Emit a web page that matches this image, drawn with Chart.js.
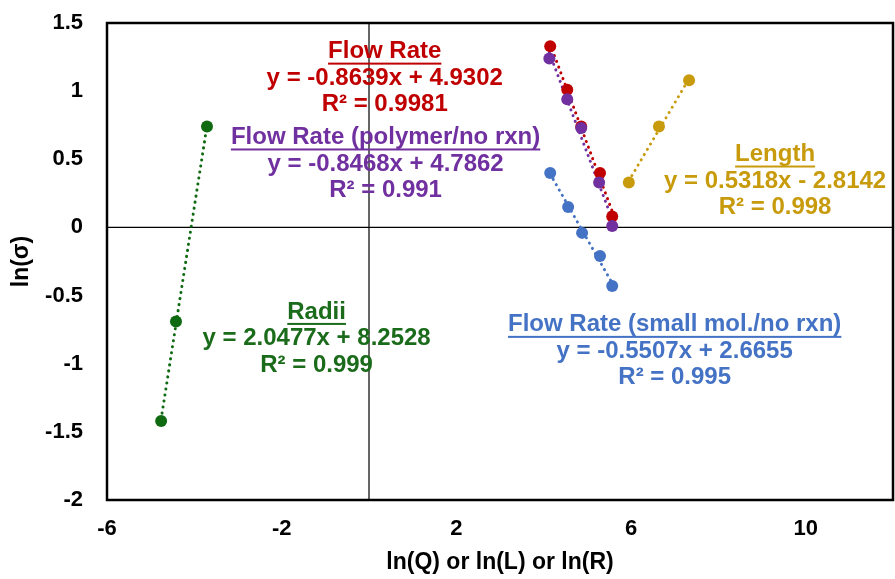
<!DOCTYPE html>
<html>
<head>
<meta charset="utf-8">
<script src="https://cdn.jsdelivr.net/npm/chart.js@4.4.0/dist/chart.umd.min.js"></script>
<style>
  html, body { margin: 0; padding: 0; background: #fff; }
  #wrap { width: 895px; height: 579px; }
</style>
</head>
<body>
<div id="wrap"><canvas id="myChart" width="895" height="579"></canvas></div>
<script>
// values
const flowX = [4.15, 4.54, 4.86, 5.29, 5.57];
const flowY = [1.33, 1.01, 0.74, 0.40, 0.08];
const polyX = [4.13, 4.54, 4.86, 5.27, 5.57];
const polyY = [1.24, 0.94, 0.73, 0.33, 0.01];
const smallX = [4.15, 4.56, 4.88, 5.29, 5.57];
const smallY = [0.40, 0.15, -0.04, -0.21, -0.43];
const lengthX = [5.95, 6.64, 7.33];
const lengthY = [0.33, 0.74, 1.08];
const radiiX = [-4.76, -4.42, -3.71];
const radiiY = [-1.42, -0.69, 0.74];

const xTicks = [-6, -2, 2, 6, 10];

const seriesNames = ["Flow Rate", "Flow Rate (polymer/no rxn)", "Flow Rate (small mol./no rxn)", "Length", "Radii"];
const equations = ["y = -0.8639x + 4.9302", "y = -0.8468x + 4.7862", "y = -0.5507x + 2.6655", "y = 0.5318x - 2.8142", "y = 2.0477x + 8.2528"];
const rSquared = ["R² = 0.9981", "R² = 0.991", "R² = 0.995", "R² = 0.998", "R² = 0.999"];

const colors = ["#C00000", "#7030A0", "#4472C4", "#C89B0C", "#0F6A12"];
const textColors = ["#C00000", "#7030A0", "#4472C4", "#C89B0C", "#1A6B1A"];

const FONT = "'Liberation Sans', Arial, sans-serif";

function pts(xs, ys) {
  return xs.map((x, i) => ({ x: x, y: ys[i] }));
}

// least squares trendline across the range of the points
function trend(xs, ys) {
  const n = xs.length;
  let sx = 0, sy = 0, sxx = 0, sxy = 0;
  for (let i = 0; i < n; i++) {
    sx += xs[i]; sy += ys[i]; sxx += xs[i] * xs[i]; sxy += xs[i] * ys[i];
  }
  const m = (n * sxy - sx * sy) / (n * sxx - sx * sx);
  const b = (sy - m * sx) / n;
  const lo = Math.min(...xs), hi = Math.max(...xs);
  return [{ x: lo, y: m * lo + b }, { x: hi, y: m * hi + b }];
}

const allX = [flowX, polyX, smallX, lengthX, radiiX];
const allY = [flowY, polyY, smallY, lengthY, radiiY];

const datasets = [];
allX.forEach((xs, i) => {
  datasets.push({
    label: seriesNames[i] + " trend",
    data: trend(xs, allY[i]),
    showLine: true,
    borderColor: colors[i],
    borderWidth: 3,
    borderDash: [0.1, 6],
    borderCapStyle: "round",
    pointRadius: 0,
    order: 10 - i
  });
});
allX.forEach((xs, i) => {
  datasets.push({
    label: seriesNames[i],
    data: pts(xs, allY[i]),
    showLine: false,
    pointRadius: 6,
    pointHoverRadius: 6,
    pointBorderWidth: 0,
    pointBackgroundColor: colors[i],
    backgroundColor: colors[i],
    borderColor: colors[i],
    order: 5 - i
  });
});

// where each text block sits (data coords of its centre column / first line)
const blocks = [
  { x: 0.36, y: 1.29 },
  { x: 0.38, y: 0.66 },
  { x: 7.0, y: -0.715 },
  { x: 9.3, y: 0.535 },
  { x: -1.2, y: -0.62 }
];

const noPad = () => ({ left: 0, top: 0, right: 0, bottom: 0 });

const framePlugin = {
  id: "frame",
  beforeDatasetsDraw(chart) {
    const { ctx, chartArea: a, scales } = chart;
    const x0 = scales.x.getPixelForValue(0);
    const y0 = scales.y.getPixelForValue(0);
    ctx.save();
    ctx.strokeStyle = "#000";
    ctx.lineWidth = 1.2;
    ctx.beginPath();
    ctx.moveTo(x0, a.top); ctx.lineTo(x0, a.bottom);
    ctx.moveTo(a.left, y0); ctx.lineTo(a.right, y0);
    ctx.stroke();
    ctx.restore();
  },
  afterDraw(chart) {
    const { ctx, chartArea: a } = chart;
    ctx.save();
    ctx.strokeStyle = "#000";
    ctx.lineWidth = 2.5;
    ctx.strokeRect(a.left, a.top, a.right - a.left, a.bottom - a.top);
    ctx.restore();
  }
};

const labelPlugin = {
  id: "trendLabels",
  afterDatasetsDraw(chart) {
    const { ctx, scales } = chart;
    ctx.save();
    ctx.font = "bold 24px " + FONT;
    ctx.textAlign = "center";
    ctx.textBaseline = "middle";
    blocks.forEach((b, i) => {
      const cx = scales.x.getPixelForValue(b.x);
      const cy = scales.y.getPixelForValue(b.y);
      ctx.fillStyle = textColors[i];
      const lines = [seriesNames[i], equations[i], rSquared[i]];
      lines.forEach((t, j) => ctx.fillText(t, cx, cy + j * 26.5));
      const w = ctx.measureText(seriesNames[i]).width;
      ctx.fillRect(cx - w / 2, cy + 11, w, 2);
    });
    ctx.restore();
  }
};

const ctx = document.getElementById("myChart");
new Chart(ctx, {
  type: "scatter",
  data: { datasets: datasets },
  options: {
    responsive: false,
    animation: false,
    layout: { autoPadding: false, padding: { top: 23, right: 2, left: 0, bottom: 0 } },
    plugins: { legend: { display: false }, tooltip: { enabled: false } },
    scales: {
      x: {
        type: "linear",
        min: -6,
        max: 12,
        afterBuildTicks(axis) { axis.ticks = xTicks.map(v => ({ value: v })); },
        afterFit(axis) {
          axis.height = 79;
          axis.paddingLeft = 0;
          axis.paddingRight = 0;
          axis.getPadding = noPad;
        },
        grid: { display: false, drawTicks: false },
        border: { display: false },
        ticks: { color: "#000", font: { family: FONT, size: 22, weight: "bold" }, padding: 16, maxRotation: 0 },
        title: { display: true, text: "ln(Q) or ln(L) or ln(R)", color: "#000", font: { family: FONT, size: 23, weight: "bold" }, padding: { top: 0, bottom: 3 } }
      },
      y: {
        min: -2,
        max: 1.5,
        afterFit(axis) {
          axis.width = 107;
          axis.paddingTop = 0;
          axis.paddingBottom = 0;
          axis.getPadding = noPad;
        },
        grid: { display: false, drawTicks: false },
        border: { display: false },
        ticks: { stepSize: 0.5, color: "#000", font: { family: FONT, size: 22, weight: "bold" }, padding: 24, callback: v => String(v) },
        title: { display: true, text: "ln(σ)", color: "#000", font: { family: FONT, size: 23, weight: "bold" }, padding: { top: 8, bottom: 0 } }
      }
    }
  },
  plugins: [framePlugin, labelPlugin]
});
</script>
</body>
</html>
